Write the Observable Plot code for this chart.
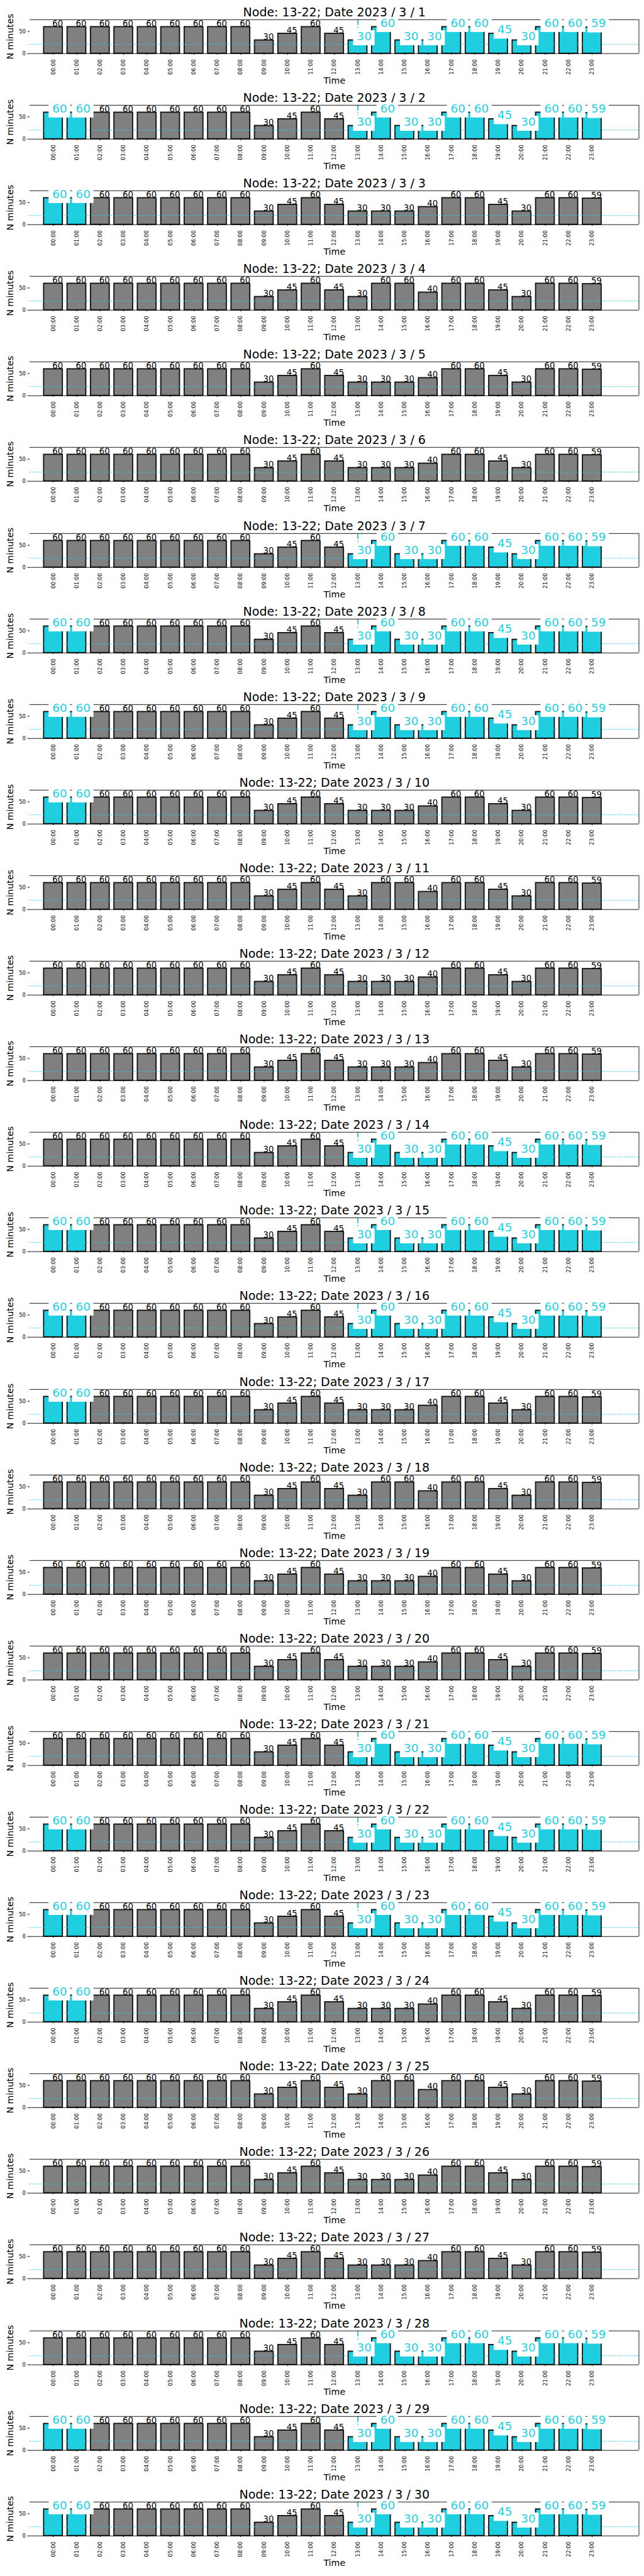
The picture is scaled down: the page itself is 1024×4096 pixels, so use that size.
<!DOCTYPE html>
<html>
<head>
<meta charset="utf-8">
<script src="https://cdn.jsdelivr.net/npm/d3@7"></script>
<script src="https://cdn.jsdelivr.net/npm/@observablehq/plot@0.6"></script>
<style>
  html, body { margin: 0; padding: 0; background: #ffffff; }
  #charts svg { display: block; }
</style>
</head>
<body>
<div id="charts"></div>
<script>
// ---------------- data ----------------
const nodeName = "13-22";
const hours = ["00:00","01:00","02:00","03:00","04:00","05:00","06:00","07:00","08:00","09:00","10:00","11:00",
               "12:00","13:00","14:00","15:00","16:00","17:00","18:00","19:00","20:00","21:00","22:00","23:00"];
const dates = ["2023 / 3 / 1","2023 / 3 / 2","2023 / 3 / 3","2023 / 3 / 4","2023 / 3 / 5","2023 / 3 / 6",
               "2023 / 3 / 7","2023 / 3 / 8","2023 / 3 / 9","2023 / 3 / 10","2023 / 3 / 11","2023 / 3 / 12",
               "2023 / 3 / 13","2023 / 3 / 14","2023 / 3 / 15","2023 / 3 / 16","2023 / 3 / 17","2023 / 3 / 18",
               "2023 / 3 / 19","2023 / 3 / 20","2023 / 3 / 21","2023 / 3 / 22","2023 / 3 / 23","2023 / 3 / 24",
               "2023 / 3 / 25","2023 / 3 / 26","2023 / 3 / 27","2023 / 3 / 28","2023 / 3 / 29","2023 / 3 / 30"];
// minutes per hour, one row per day
const minutes = [
  [60,60,60,60,60,60,60,60,60,30,45,60,45,30,60,30,30,60,60,45,30,60,60,59], // 3/1
  [60,60,60,60,60,60,60,60,60,30,45,60,45,30,60,30,30,60,60,45,30,60,60,59], // 3/2
  [60,60,60,60,60,60,60,60,60,30,45,60,45,30,30,30,40,60,60,45,30,60,60,59], // 3/3
  [60,60,60,60,60,60,60,60,60,30,45,60,45,30,60,60,40,60,60,45,30,60,60,59], // 3/4
  [60,60,60,60,60,60,60,60,60,30,45,60,45,30,30,30,40,60,60,45,30,60,60,59], // 3/5
  [60,60,60,60,60,60,60,60,60,30,45,60,45,30,30,30,40,60,60,45,30,60,60,59], // 3/6
  [60,60,60,60,60,60,60,60,60,30,45,60,45,30,60,30,30,60,60,45,30,60,60,59], // 3/7
  [60,60,60,60,60,60,60,60,60,30,45,60,45,30,60,30,30,60,60,45,30,60,60,59], // 3/8
  [60,60,60,60,60,60,60,60,60,30,45,60,45,30,60,30,30,60,60,45,30,60,60,59], // 3/9
  [60,60,60,60,60,60,60,60,60,30,45,60,45,30,30,30,40,60,60,45,30,60,60,59], // 3/10
  [60,60,60,60,60,60,60,60,60,30,45,60,45,30,60,60,40,60,60,45,30,60,60,59], // 3/11
  [60,60,60,60,60,60,60,60,60,30,45,60,45,30,30,30,40,60,60,45,30,60,60,59], // 3/12
  [60,60,60,60,60,60,60,60,60,30,45,60,45,30,30,30,40,60,60,45,30,60,60,59], // 3/13
  [60,60,60,60,60,60,60,60,60,30,45,60,45,30,60,30,30,60,60,45,30,60,60,59], // 3/14
  [60,60,60,60,60,60,60,60,60,30,45,60,45,30,60,30,30,60,60,45,30,60,60,59], // 3/15
  [60,60,60,60,60,60,60,60,60,30,45,60,45,30,60,30,30,60,60,45,30,60,60,59], // 3/16
  [60,60,60,60,60,60,60,60,60,30,45,60,45,30,30,30,40,60,60,45,30,60,60,59], // 3/17
  [60,60,60,60,60,60,60,60,60,30,45,60,45,30,60,60,40,60,60,45,30,60,60,59], // 3/18
  [60,60,60,60,60,60,60,60,60,30,45,60,45,30,30,30,40,60,60,45,30,60,60,59], // 3/19
  [60,60,60,60,60,60,60,60,60,30,45,60,45,30,30,30,40,60,60,45,30,60,60,59], // 3/20
  [60,60,60,60,60,60,60,60,60,30,45,60,45,30,60,30,30,60,60,45,30,60,60,59], // 3/21
  [60,60,60,60,60,60,60,60,60,30,45,60,45,30,60,30,30,60,60,45,30,60,60,59], // 3/22
  [60,60,60,60,60,60,60,60,60,30,45,60,45,30,60,30,30,60,60,45,30,60,60,59], // 3/23
  [60,60,60,60,60,60,60,60,60,30,45,60,45,30,30,30,40,60,60,45,30,60,60,59], // 3/24
  [60,60,60,60,60,60,60,60,60,30,45,60,45,30,60,60,40,60,60,45,30,60,60,59], // 3/25
  [60,60,60,60,60,60,60,60,60,30,45,60,45,30,30,30,40,60,60,45,30,60,60,59], // 3/26
  [60,60,60,60,60,60,60,60,60,30,45,60,45,30,30,30,40,60,60,45,30,60,60,59], // 3/27
  [60,60,60,60,60,60,60,60,60,30,45,60,45,30,60,30,30,60,60,45,30,60,60,59], // 3/28
  [60,60,60,60,60,60,60,60,60,30,45,60,45,30,60,30,30,60,60,45,30,60,60,59], // 3/29
  [60,60,60,60,60,60,60,60,60,30,45,60,45,30,60,30,30,60,60,45,30,60,60,59]  // 3/30
];
// highlighted (cyan) hour blocks per day: 1 = highlighted
const earlyHours = ["00:00","01:00"];
const lateHours = ["13:00","14:00","15:00","16:00","17:00","18:00","19:00","20:00","21:00","22:00","23:00"];
const earlyHighlight = [0,1,1,0,0,0,0,1,1,1,0,0,0,0,1,1,1,0,0,0,0,1,1,1,0,0,0,0,1,1];
const lateHighlight  = [1,1,0,0,0,0,1,1,1,0,0,0,0,1,1,1,0,0,0,0,1,1,1,0,0,0,0,1,1,1];
const threshold = 20.7;
const yTicks = [0, 50];
const yMax = 76.5;

// ---------------- styling ----------------
const CYAN = "#1fcfe0";
const W = 1023;
const H = 136.1;
const FONT = "DejaVu Sans, sans-serif";

const root = document.getElementById("charts");

dates.forEach((date, k) => {
  const rows = hours.map((h, i) => {
    const hi = (earlyHighlight[k] === 1 && earlyHours.includes(h)) ||
               (lateHighlight[k] === 1 && lateHours.includes(h));
    return {i, h, v: minutes[k][i], hi};
  });
  const plain = rows.filter(d => !d.hi);
  const high = rows.filter(d => d.hi);
  const lateStart = hours.indexOf(lateHours[0]);

  const marks = [
    Plot.rectY(rows, {
      x1: d => d.i - 0.4, x2: d => d.i + 0.4, y: "v",
      fill: d => d.hi ? CYAN : "#808080",
      stroke: "#111", strokeWidth: 1.85
    }),
    Plot.ruleY([threshold], {stroke: CYAN, strokeWidth: 1.4, strokeDasharray: "1.4,2.1"}),
  ];
  if (lateHighlight[k] === 1) {
    marks.push(Plot.ruleX([lateStart], {
      y1: yMax, y2: 0, stroke: CYAN, strokeWidth: 1.9, strokeDasharray: "9,3.2,1.6,3.2"
    }));
  }
  marks.push(
    Plot.ruleY([0], {stroke: "#000", strokeWidth: 0.9}),
    Plot.ruleY([yMax], {stroke: "#000", strokeWidth: 0.9}),
    Plot.ruleX([25], {stroke: "#000", strokeWidth: 0.9}),
    Plot.axisX(d3.range(hours.length), {
      tickFormat: i => hours[i], tickRotate: -90, tickSize: 2.4, tickPadding: 6.6,
      fontSize: 8.5, label: null, fontFamily: FONT, stroke: "#000"
    }),
    Plot.axisY(yTicks, {
      tickSize: 3.3, tickPadding: 3.2, fontSize: 8.5, label: null, fontFamily: FONT
    }),
    Plot.text(["Time"], {frameAnchor: "bottom", dy: 43.5, lineAnchor: "middle", textAnchor: "middle",
      fontSize: 14.2, fontFamily: FONT, fill: "#000"}),
    Plot.text(["N minutes"], {frameAnchor: "left", dx: -30.6, rotate: -90, textAnchor: "middle", lineAnchor: "middle",
      fontSize: 14.2, fontFamily: FONT, fill: "#000"}),
    Plot.text([`Node: ${nodeName}; Date ${date}`], {frameAnchor: "top", dy: -5.6, lineAnchor: "bottom", textAnchor: "middle",
      fontSize: 19, fontFamily: FONT, fill: "#000"}),
    Plot.text(plain, {x: "i", y: "v", text: d => String(d.v), textAnchor: "start", lineAnchor: "bottom",
      dx: -1.4, dy: -0.8, fontSize: 13.2, fontFamily: FONT, fill: "#000"}),
    Plot.rect(high, {x1: "i", x2: "i", y1: "v", y2: "v",
      insetLeft: -7, insetRight: -27.1, insetTop: -15.5, insetBottom: -8.4, fill: "#fff"}),
    Plot.text(high, {x: "i", y: "v", text: d => String(d.v), textAnchor: "start", lineAnchor: "bottom",
      dx: -1.4, dy: -0.3, fontSize: 18.4, fontFamily: FONT, fill: CYAN})
  );

  const chart = Plot.plot({
    width: W, height: H,
    marginLeft: 47, marginRight: 7.5, marginTop: 30.8, marginBottom: H - 30.8 - 53.9,
    x: {type: "linear", domain: [-1, 25]},
    y: {domain: [0, yMax]},
    style: {fontFamily: FONT, background: "#fff", color: "#000", overflow: "visible"},
    marks
  });
  root.appendChild(chart);
});
</script>
</body>
</html>
